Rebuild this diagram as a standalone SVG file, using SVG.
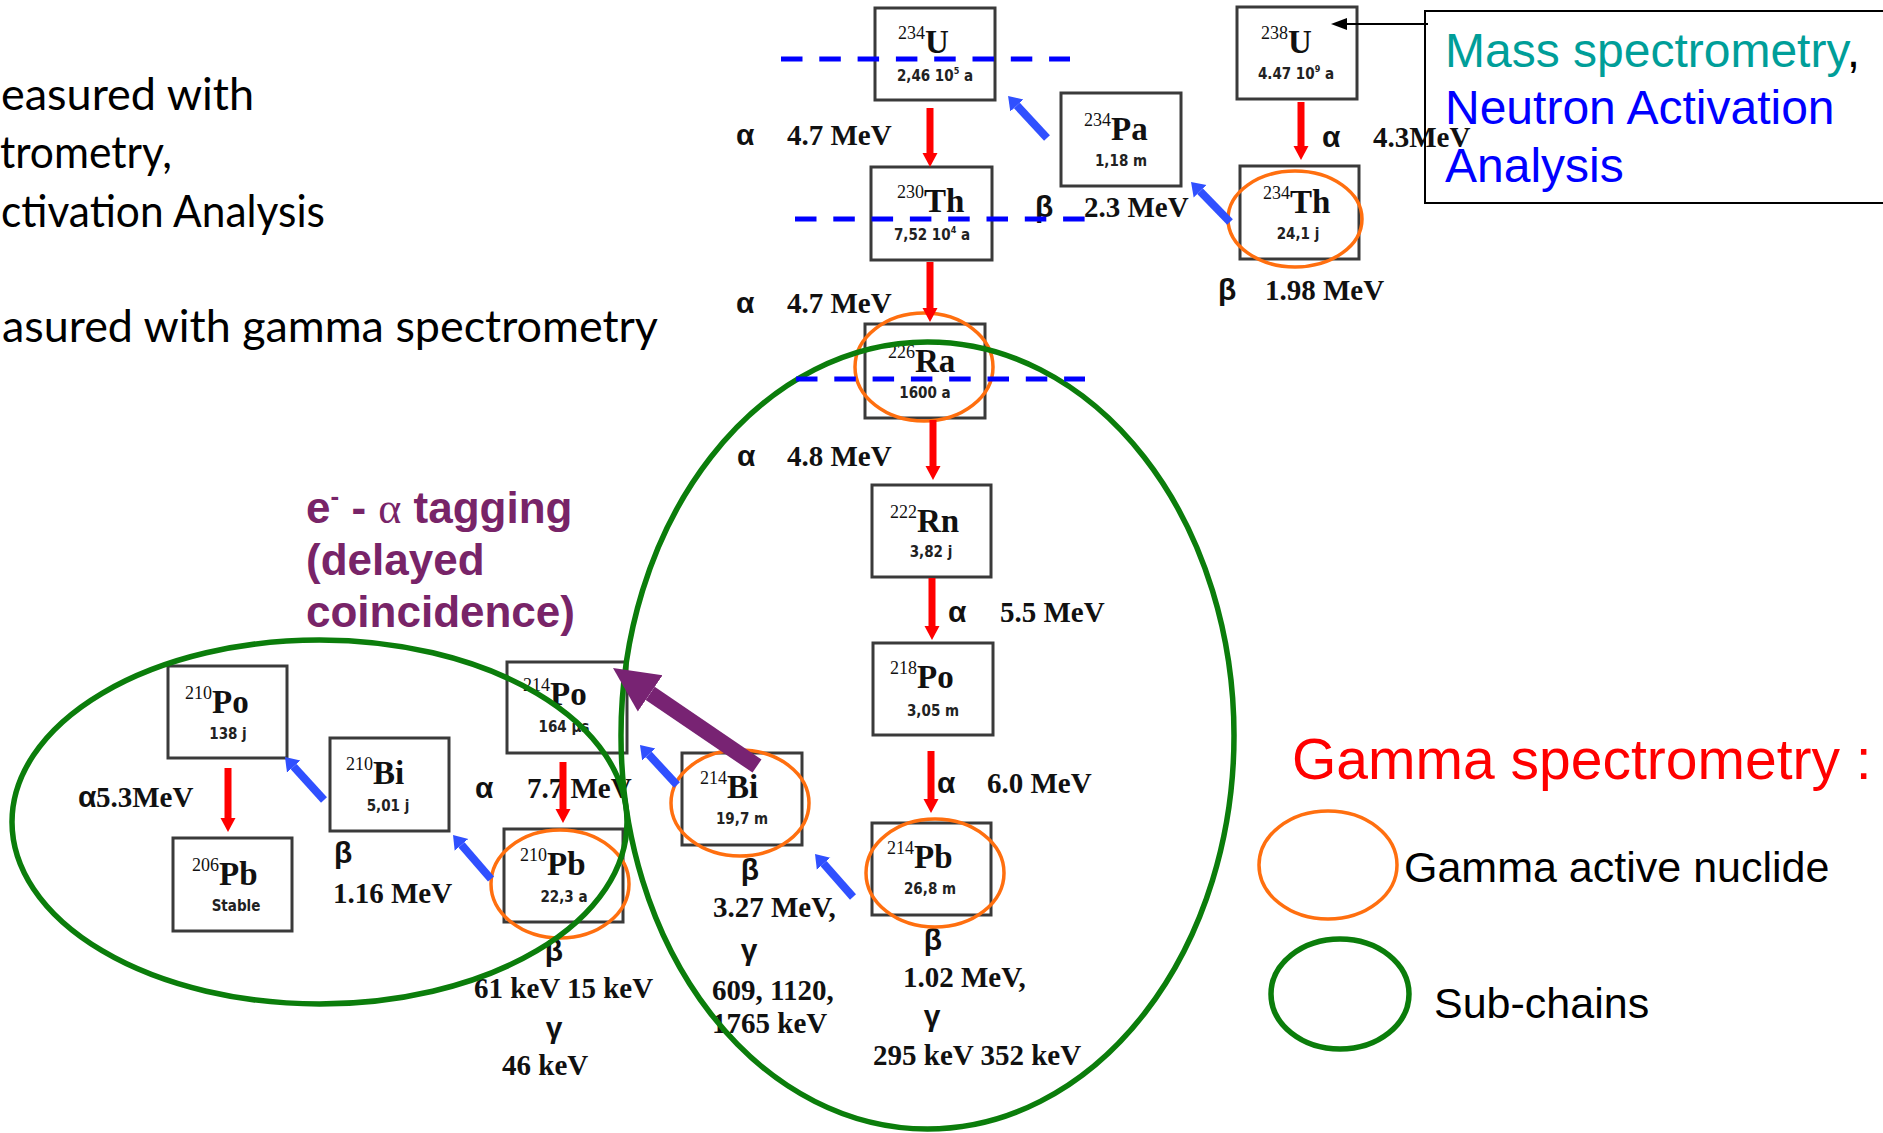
<svg xmlns="http://www.w3.org/2000/svg" width="1883" height="1133" viewBox="0 0 1883 1133">
<defs>
<style>
.box{fill:#fff;stroke:#3a3a3a;stroke-width:3}
.sym{font-family:"Liberation Serif",serif;font-weight:bold;font-size:33px;fill:#111}
.sup{font-size:18px;font-weight:normal}
.hl{font-family:"DejaVu Sans Condensed","DejaVu Sans",sans-serif;font-weight:bold;font-size:15px;text-anchor:middle;fill:#222}
.en{font-family:"Liberation Serif",serif;font-weight:bold;font-size:29px;fill:#111}
.gr{font-family:"Liberation Sans",sans-serif;font-weight:bold;font-size:30px;fill:#111}
.mid{text-anchor:middle}
.side{font-family:Lato,"Open Sans",sans-serif;font-size:45px;fill:#000}
.red{stroke:#FF0000;stroke-width:7;fill:none}
.blue{stroke:#3050FF;stroke-width:8;fill:none}
.dash{stroke:#0000FF;stroke-width:5;stroke-dasharray:21.5 16.8;fill:none}
.gam{fill:none;stroke:#FF6F0F;stroke-width:3.5}
.sub{fill:none;stroke:#0B7D0B;stroke-width:5.5}
.leg{font-family:"Liberation Sans",sans-serif;font-size:43px;fill:#000}
.info{font-family:"Liberation Sans",sans-serif;font-size:48px}
.tag{font-family:"Liberation Sans",sans-serif;font-weight:bold;font-size:44px;fill:#782468}
</style>
<marker id="hRed" markerUnits="userSpaceOnUse" markerWidth="16" markerHeight="16" viewBox="0 -8 16 16" refX="0" refY="0" orient="auto"><path d="M0,-7.5 L14,0 L0,7.5 z" fill="#FF0000"/></marker>
<marker id="hBlue" markerUnits="userSpaceOnUse" markerWidth="16" markerHeight="20" viewBox="0 -10 16 20" refX="0" refY="0" orient="auto"><path d="M0,-9 L13,0 L0,9 z" fill="#3050FF"/></marker>
<marker id="hPurple" markerUnits="userSpaceOnUse" markerWidth="48" markerHeight="48" viewBox="0 -24 48 48" refX="0" refY="0" orient="auto"><path d="M0,-22 L45,0 L0,22 z" fill="#782373"/></marker>
<marker id="hBlack" markerUnits="userSpaceOnUse" markerWidth="18" markerHeight="14" viewBox="0 -7 18 14" refX="0" refY="0" orient="auto"><path d="M0,-6 L16,0 L0,6 z" fill="#000"/></marker>
</defs>
<rect x="0" y="0" width="1883" height="1133" fill="#fff"/>

<g id="side-text">
<text class="side" x="1" y="110" textLength="253" lengthAdjust="spacingAndGlyphs">easured with</text>
<text class="side" x="0" y="168" textLength="172" lengthAdjust="spacingAndGlyphs">trometry,</text>
<text class="side" x="1" y="227" textLength="324" lengthAdjust="spacingAndGlyphs">ctivation Analysis</text>
<text class="side" x="2" y="342" textLength="656" lengthAdjust="spacingAndGlyphs">asured with gamma spectrometry</text>
</g>

<g id="nodes">
<g id="n234U"><rect class="box" x="875" y="8" width="120" height="92"/><text class="sym" x="898" y="53"><tspan class="sup" dy="-14">234</tspan><tspan dy="14">U</tspan></text><text class="hl" x="935" y="81">2,46 10<tspan font-size="9" dy="-7">5</tspan><tspan dy="7"> a</tspan></text></g>
<g id="n238U"><rect class="box" x="1237" y="7" width="120" height="92"/><text class="sym" x="1261" y="53"><tspan class="sup" dy="-14">238</tspan><tspan dy="14">U</tspan></text><text class="hl" x="1296" y="79">4.47 10<tspan font-size="9" dy="-7">9</tspan><tspan dy="7"> a</tspan></text></g>
<g id="n234Pa"><rect class="box" x="1061" y="93" width="120" height="93"/><text class="sym" x="1084" y="140"><tspan class="sup" dy="-14">234</tspan><tspan dy="14">Pa</tspan></text><text class="hl" x="1121" y="166">1,18 m</text></g>
<g id="n230Th"><rect class="box" x="871" y="167" width="121" height="93"/><text class="sym" x="897" y="212"><tspan class="sup" dy="-14">230</tspan><tspan dy="14">Th</tspan></text><text class="hl" x="932" y="240">7,52 10<tspan font-size="9" dy="-7">4</tspan><tspan dy="7"> a</tspan></text></g>
<g id="n234Th"><rect class="box" x="1240" y="166" width="119" height="93"/><text class="sym" x="1263" y="213"><tspan class="sup" dy="-14">234</tspan><tspan dy="14">Th</tspan></text><text class="hl" x="1298" y="239">24,1 j</text></g>
<g id="n226Ra"><rect class="box" x="865" y="324" width="120" height="94"/><text class="sym" x="888" y="372"><tspan class="sup" dy="-14">226</tspan><tspan dy="14">Ra</tspan></text><text class="hl" x="925" y="398">1600 a</text></g>
<g id="n222Rn"><rect class="box" x="872" y="485" width="119" height="92"/><text class="sym" x="890" y="532"><tspan class="sup" dy="-14">222</tspan><tspan dy="14">Rn</tspan></text><text class="hl" x="931" y="557">3,82 j</text></g>
<g id="n218Po"><rect class="box" x="873" y="643" width="120" height="92"/><text class="sym" x="890" y="688"><tspan class="sup" dy="-14">218</tspan><tspan dy="14">Po</tspan></text><text class="hl" x="933" y="716">3,05 m</text></g>
<g id="n214Pb"><rect class="box" x="872" y="823" width="119" height="92"/><text class="sym" x="887" y="868"><tspan class="sup" dy="-14">214</tspan><tspan dy="14">Pb</tspan></text><text class="hl" x="930" y="894">26,8 m</text></g>
<g id="n214Bi"><rect class="box" x="682" y="753" width="120" height="92"/><text class="sym" x="700" y="798"><tspan class="sup" dy="-14">214</tspan><tspan dy="14">Bi</tspan></text><text class="hl" x="742" y="824">19,7  m</text></g>
<g id="n214Po"><rect class="box" x="507" y="662" width="120" height="91"/><text class="sym" x="523" y="705"><tspan class="sup" dy="-14">214</tspan><tspan dy="14">Po</tspan></text><text class="hl" x="564" y="732">164 µs</text></g>
<g id="n210Pb"><rect class="box" x="504" y="829" width="119" height="93"/><text class="sym" x="520" y="875"><tspan class="sup" dy="-14">210</tspan><tspan dy="14">Pb</tspan></text><text class="hl" x="564" y="902">22,3 a</text></g>
<g id="n210Bi"><rect class="box" x="330" y="738" width="119" height="93"/><text class="sym" x="346" y="784"><tspan class="sup" dy="-14">210</tspan><tspan dy="14">Bi</tspan></text><text class="hl" x="388" y="811">5,01 j</text></g>
<g id="n210Po"><rect class="box" x="168" y="666" width="119" height="92"/><text class="sym" x="185" y="713"><tspan class="sup" dy="-14">210</tspan><tspan dy="14">Po</tspan></text><text class="hl" x="228" y="739">138 j</text></g>
<g id="n206Pb"><rect class="box" x="173" y="838" width="119" height="93"/><text class="sym" x="192" y="885"><tspan class="sup" dy="-14">206</tspan><tspan dy="14">Pb</tspan></text><text class="hl" x="236" y="911">Stable</text></g>
</g>

<g id="decay-labels">
<text class="gr" x="736" y="145">α</text><text class="en" x="787" y="145">4.7 MeV</text>
<text class="gr" x="736" y="313">α</text><text class="en" x="787" y="313">4.7 MeV</text>
<text class="gr" x="1035" y="217">β</text><text class="en" x="1084" y="217">2.3 MeV</text>
<text class="gr" x="1322" y="147">α</text><text class="en" x="1373" y="147">4.3MeV</text>
<text class="gr" x="1218" y="300">β</text><text class="en" x="1265" y="300">1.98 MeV</text>
<text class="gr" x="737" y="466">α</text><text class="en" x="787" y="466">4.8 MeV</text>
<text class="gr" x="948" y="622">α</text><text class="en" x="1000" y="622">5.5 MeV</text>
<text class="gr" x="937" y="793">α</text><text class="en" x="987" y="793">6.0 MeV</text>
<text class="gr mid" x="933" y="950">β</text><text class="en" x="903" y="987">1.02 MeV,</text>
<text class="gr mid" x="932" y="1026">γ</text><text class="en" x="873" y="1065">295 keV 352 keV</text>
<text class="gr mid" x="750" y="880">β</text><text class="en" x="713" y="917">3.27 MeV,</text>
<text class="gr mid" x="749" y="960">γ</text><text class="en" x="712" y="1000">609, 1120,</text>
<text class="en" x="712" y="1033">1765 keV</text>
<text class="gr mid" x="554" y="961">β</text><text class="en" x="474" y="998">61 keV 15 keV</text>
<text class="gr mid" x="554" y="1038">γ</text><text class="en" x="502" y="1075">46 keV</text>
<text class="gr" x="475" y="798">α</text><text class="en" x="527" y="798">7.7 MeV</text>
<text class="gr" x="334" y="863">β</text><text class="en" x="333" y="903">1.16 MeV</text>
<text class="gr" x="78" y="807">α</text><text class="en" x="96" y="807">5.3MeV</text>
</g>

<g id="gamma-active">
<ellipse class="gam" cx="1295" cy="219" rx="67" ry="48"/>
<ellipse class="gam" cx="924" cy="367" rx="69" ry="54"/>
<ellipse class="gam" cx="935" cy="873" rx="69" ry="54"/>
<ellipse class="gam" cx="740" cy="803" rx="69" ry="53"/>
<ellipse class="gam" cx="560" cy="884" rx="69" ry="54"/>
</g>

<g id="sub-chains">
<ellipse class="sub" cx="927.5" cy="735.5" rx="306.5" ry="393.5"/>
<ellipse class="sub" cx="319.5" cy="822" rx="307.5" ry="182"/>
</g>

<g id="dashed-lines">
<line class="dash" x1="781" y1="59" x2="1070" y2="59"/>
<line class="dash" x1="795" y1="219" x2="1085" y2="219"/>
<line class="dash" x1="796" y1="379" x2="1085" y2="379"/>
</g>

<g id="connectors">
<line class="red" x1="930" y1="108" x2="930" y2="153" marker-end="url(#hRed)"/>
<line class="red" x1="930" y1="262" x2="930" y2="308" marker-end="url(#hRed)"/>
<line class="red" x1="1301" y1="102" x2="1301" y2="146" marker-end="url(#hRed)"/>
<line class="red" x1="933" y1="420" x2="933" y2="466" marker-end="url(#hRed)"/>
<line class="red" x1="932" y1="578" x2="932" y2="626" marker-end="url(#hRed)"/>
<line class="red" x1="931" y1="751" x2="931" y2="799" marker-end="url(#hRed)"/>
<line class="red" x1="563" y1="762" x2="563" y2="809" marker-end="url(#hRed)"/>
<line class="red" x1="228" y1="768" x2="228" y2="818" marker-end="url(#hRed)"/>
<line class="blue" x1="1047" y1="138" x2="1016.9" y2="105.5" marker-end="url(#hBlue)"/>
<line class="blue" x1="1230" y1="222" x2="1200.1" y2="191.3" marker-end="url(#hBlue)"/>
<line class="blue" x1="853" y1="897" x2="823.6" y2="863.7" marker-end="url(#hBlue)"/>
<line class="blue" x1="677" y1="785" x2="648.8" y2="754.5" marker-end="url(#hBlue)"/>
<line class="blue" x1="491" y1="879" x2="461.5" y2="844.8" marker-end="url(#hBlue)"/>
<line class="blue" x1="324" y1="800" x2="293.7" y2="766.6" marker-end="url(#hBlue)"/>
<line x1="757" y1="766" x2="650.2" y2="693.4" stroke="#782373" stroke-width="16" marker-end="url(#hPurple)"/>
<line x1="1428" y1="24" x2="1347" y2="24" stroke="#000" stroke-width="2" marker-end="url(#hBlack)"/>
</g>

<g id="info-box">
<rect x="1425" y="11" width="500" height="192" fill="none" stroke="#000" stroke-width="2"/>
<text class="info" x="1445" y="67"><tspan fill="#009E99">Mass spectrometry</tspan><tspan fill="#000">,</tspan></text>
<text class="info" x="1445" y="124" fill="#0000FF">Neutron Activation</text>
<text class="info" x="1445" y="182" fill="#0000FF">Analysis</text>
</g>

<g id="tagging">
<text class="tag" x="306" y="523">e<tspan font-size="26" dy="-18">-</tspan><tspan dy="18"> - </tspan><tspan font-family="Liberation Serif" font-weight="normal">α</tspan> tagging</text>
<text class="tag" x="306" y="575">(delayed</text>
<text class="tag" x="306" y="627">coincidence)</text>
</g>

<g id="legend">
<text x="1292" y="779" font-family="Liberation Sans, sans-serif" font-size="57" fill="#FF0000">Gamma spectrometry :</text>
<ellipse class="gam" cx="1328" cy="865" rx="69" ry="54"/>
<text class="leg" x="1404" y="882">Gamma active nuclide</text>
<ellipse class="sub" cx="1340" cy="994" rx="69" ry="55"/>
<text class="leg" x="1434" y="1018">Sub-chains</text>
</g>
</svg>
